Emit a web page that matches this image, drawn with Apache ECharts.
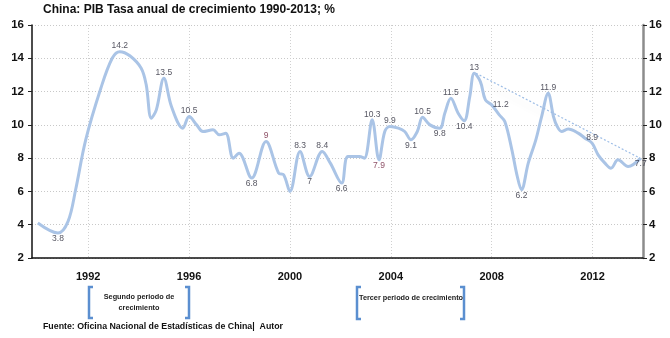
<!DOCTYPE html>
<html>
<head>
<meta charset="utf-8">
<script src="https://cdn.jsdelivr.net/npm/echarts@6/dist/echarts.min.js"></script>
<style>
html,body{margin:0;padding:0;background:#fff;}
#chart{width:670px;height:338px;}
</style>
</head>
<body>
<div id="chart"></div>
<script>
// ---- data ----
const years = [1990.0,1990.8,1991.2,1991.5,1991.9,1992.5,1992.95,1993.25,1993.65,1994.1,1994.3,1994.5,1994.7,1995.0,1995.3,1995.75,1996.0,1996.3,1996.55,1996.95,1997.2,1997.45,1997.75,1997.98,1998.48,1999.05,1999.55,1999.75,2000.0,2000.4,2000.78,2001.28,2001.6,2002.05,2002.3,2002.75,2002.95,2003.26,2003.53,2003.76,2003.96,2004.3,2004.55,2004.8,2005.05,2005.26,2005.55,2005.94,2006.14,2006.38,2006.67,2006.91,2007.13,2007.31,2007.55,2007.75,2008.0,2008.3,2008.52,2008.8,2009.0,2009.18,2009.45,2009.75,2009.98,2010.24,2010.45,2010.6,2010.77,2011.03,2011.43,2011.7,2011.98,2012.22,2012.49,2012.73,2013.01,2013.41,2013.91];
const growth = [4.1,3.5,4.2,6.1,9.1,12.2,14.0,14.4,14.15,13.4,12.4,10.4,10.9,12.8,11.1,9.8,10.5,10.0,9.6,9.7,9.4,9.5,8.0,8.3,6.8,9.0,7.1,7.0,6.0,8.4,6.9,8.4,7.7,6.5,8.1,8.1,8.0,10.3,7.9,9.6,9.9,9.8,9.6,9.1,9.6,10.45,10.0,9.8,10.7,11.6,10.7,10.25,11.7,13.1,12.6,11.5,11.2,10.6,10.2,8.5,7.0,6.1,7.7,9.1,10.5,11.9,10.5,9.9,9.6,9.75,9.5,9.2,8.9,8.2,7.7,7.4,7.9,7.5,8.0];
const labelYears  = [1990.8,1993.25,1995.0,1996.0,1998.48,1999.05,2000.4,2000.78,2001.28,2002.05,2003.26,2003.53,2003.96,2004.8,2005.26,2005.94,2006.38,2006.91,2007.31,2008.0,2009.18,2010.24,2011.98,2013.91];
const labelValues = [3.8,14.2,13.5,10.5,6.8,9,8.3,7,8.4,6.6,10.3,7.9,9.9,9.1,10.5,9.8,11.5,10.4,13,11.2,6.2,11.9,8.9,7.7];
const trendStart = [2007.38, 13.1];
const trendEnd = [2013.88, 8.0];
const xTickYears = [1992,1996,2000,2004,2008,2012];
const yMin = 2, yMax = 16, yStep = 2;

// ---- presentation ----
const labelSide = ['bottom','top','top','top','bottom','top','top','bottom','top','bottom','top','bottom','top','bottom','top','bottom','top','bottom','top','right','bottom','top','top','bottom'];
const labelColor = ['#2a2a3a','#2a2a3a','#2a2a3a','#2a2a3a','#2a2a3a','#6b1d3a','#2a2a3a','#2a2a3a','#2a2a3a','#2a2a3a','#2a2a3a','#6b1d3a','#2a2a3a','#2a2a3a','#2a2a3a','#2a2a3a','#2a2a3a','#2a2a3a','#2a2a3a','#2a2a3a','#2a2a3a','#2a2a3a','#2a2a3a','#2a2a3a'];

function anchorValue(x){
  let best = 0;
  for (let j = 1; j < years.length; j++) {
    if (Math.abs(years[j]-x) < Math.abs(years[best]-x)) best = j;
  }
  return growth[best];
}

const FONT = 'Liberation Sans';
const chart = echarts.init(document.getElementById('chart'), null, {renderer:'canvas'});

const yAxisCommon = {
  type:'value', min:yMin, max:yMax, interval:yStep,
  axisTick:{show:true, inside:false, length:4, lineStyle:{color:'#222', width:1}},
  axisLabel:{fontFamily:FONT, fontWeight:'bold', fontSize:11.5, color:'#111'}
};

const option = {
  animation:false,
  backgroundColor:'#fff',
  title:{
    text:'China: PIB Tasa anual de crecimiento 1990-2013; %',
    left:38, top:-1,
    textStyle:{fontFamily:FONT, fontWeight:'bold', fontSize:12, color:'#111'}
  },
  grid:{left:32, right:27, top:25, bottom:80, containLabel:false},
  xAxis:{
    type:'value', min:1989.77, max:2014,
    axisLine:{show:true, onZero:false, lineStyle:{color:'#111', width:1.5}},
    axisTick:{show:false, customValues:xTickYears},
    axisLabel:{customValues:xTickYears, margin:13, fontFamily:FONT, fontWeight:'bold', fontSize:11, color:'#111', formatter:v=>String(v)},
    splitLine:{show:true, lineStyle:{color:'#d0d0d0', type:[1,2], width:1}}
  },
  yAxis:[
    Object.assign({}, yAxisCommon, {
      position:'left',
      axisLine:{show:true, lineStyle:{color:'#111', width:1.5}},
      axisLabel:Object.assign({}, yAxisCommon.axisLabel, {margin:8}),
      splitLine:{show:true, lineStyle:{color:'#c8c8c8', type:[1,2], width:1}}
    }),
    Object.assign({}, yAxisCommon, {
      position:'right',
      axisLine:{show:true, lineStyle:{color:'#8c8c8c', width:2.5}},
      axisLabel:Object.assign({}, yAxisCommon.axisLabel, {margin:6}),
      splitLine:{show:false}
    })
  ],
  series:[
    {
      type:'line', smooth:0.35, symbol:'none',
      data: years.map((y,i)=>[y, growth[i]]),
      lineStyle:{color:'#aac4e6', width:3},
      z:3,
      markLine:{
        silent:true,
        symbol:['none','triangle'],
        symbolSize:[0,9],
        label:{show:false},
        lineStyle:{color:'#9dbde6', type:[2,2], width:1.2, shadowColor:'rgba(0,0,0,0.15)', shadowBlur:7, shadowOffsetY:6},
        data:[[{coord:trendStart},{coord:trendEnd}]]
      }
    },
    {
      type:'scatter', symbolSize:0, silent:true, z:5,
      data: labelYears.map((x,i)=>({
        value:[x, anchorValue(x)],
        label:{show:true, position:labelSide[i], distance:1, color:labelColor[i],
               formatter:String(labelValues[i])}
      })),
      label:{fontFamily:FONT, fontSize:8.5, color:'#2a2a3a'}
    }
  ],
  graphic:[
    {type:'polyline', shape:{points:[[93,287],[89,287],[89,318],[93,318]]}, style:{stroke:'#5b8fd0', lineWidth:2.5, fill:null}},
    {type:'polyline', shape:{points:[[185,287],[189,287],[189,318],[185,318]]}, style:{stroke:'#5b8fd0', lineWidth:2.5, fill:null}},
    {type:'text', x:139, y:302, style:{text:'Segundo periodo de\ncrecimiento', align:'center', verticalAlign:'middle', fontFamily:FONT, fontWeight:'bold', fontSize:7.3, lineHeight:11, fill:'#222'}},
    {type:'polyline', shape:{points:[[361,287],[357,287],[357,319],[361,319]]}, style:{stroke:'#5b8fd0', lineWidth:2.5, fill:null}},
    {type:'polyline', shape:{points:[[460,287],[464,287],[464,319],[460,319]]}, style:{stroke:'#5b8fd0', lineWidth:2.5, fill:null}},
    {type:'text', x:411, y:298, style:{text:'Tercer periodo de crecimiento', align:'center', verticalAlign:'middle', fontFamily:FONT, fontWeight:'bold', fontSize:7.3, fill:'#222'}},
    {type:'text', x:43, y:327, style:{text:'Fuente: Oficina Nacional de Estadísticas de China|  Autor', verticalAlign:'middle', fontFamily:FONT, fontWeight:'bold', fontSize:8.8, fill:'#111'}}
  ]
};
chart.setOption(option);
</script>
</body>
</html>
